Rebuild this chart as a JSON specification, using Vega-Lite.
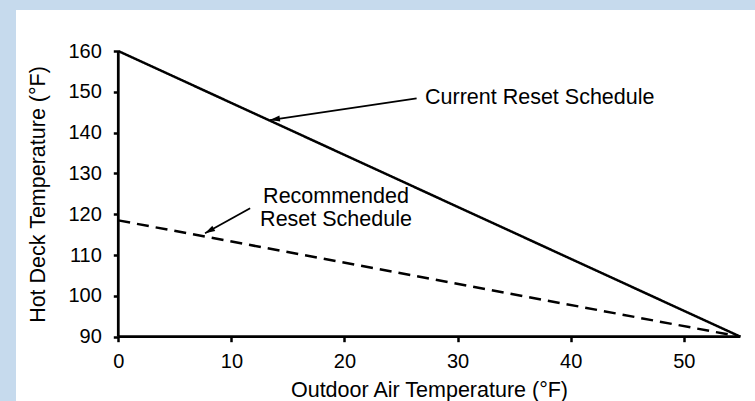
{
  "$schema": "https://vega.github.io/schema/vega-lite/v6.json",
  "width": 739,
  "height": 391,
  "autosize": {"type": "none"},
  "padding": {"left": 16, "top": 10, "right": 0, "bottom": 0},
  "background": "#c6daed",
  "config": {"view": {"fill": "white", "stroke": null}, "font": "Liberation Sans"},
  "datasets": {
    "lines": [
      {"series": "Current Reset Schedule", "x": 0, "y": 160},
      {"series": "Current Reset Schedule", "x": 55, "y": 90},
      {"series": "Recommended Reset Schedule", "x": 0, "y": 118.5},
      {"series": "Recommended Reset Schedule", "x": 55, "y": 90}
    ],
    "axislines": [
      {"x": 0, "y": 90, "x2": 55, "y2": 90},
      {"x": 0, "y": 90, "x2": 0, "y2": 160}
    ],
    "arrows": [
      {"arrow": "Current", "x": 26.38, "y": 148.41, "x2": 13.41, "y2": 143.09},
      {"arrow": "Recommended", "x": 11.66, "y": 121.46, "x2": 7.67, "y2": 115.33}
    ],
    "heads": [
      {"arrow": "Current", "x": 13.41, "y": 143.09},
      {"arrow": "Recommended", "x": 7.67, "y": 115.33}
    ],
    "currentLabel": [
      {"label": "Current Reset Schedule", "x": 27.12, "y": 148.4}
    ],
    "recLabel": [
      {"label": "Recommended", "x": 19.25, "y": 124.3},
      {"label": "Reset Schedule", "x": 19.25, "y": 118.6}
    ]
  },
  "encoding": {
    "x": {
      "field": "x",
      "type": "quantitative",
      "scale": {"domain": [-9.045, 56.3], "nice": false, "zero": false},
      "axis": {
        "title": "Outdoor Air Temperature (°F)",
        "values": [0, 10, 20, 30, 40, 50],
        "domain": false,
        "grid": false,
        "offset": -64.3,
        "tickSize": 5,
        "tickWidth": 2.5,
        "tickColor": "black",
        "labelFontSize": 20,
        "labelColor": "black",
        "labelPadding": 10,
        "titleFontSize": 21.5,
        "titleFontWeight": "normal",
        "titleColor": "black",
        "titleX": 413,
        "titleY": 54,
        "titleBaseline": "middle"
      }
    },
    "y": {
      "field": "y",
      "type": "quantitative",
      "scale": {"domain": [74.24, 170.05], "nice": false, "zero": false},
      "axis": {
        "title": "Hot Deck Temperature (°F)",
        "values": [90, 100, 110, 120, 130, 140, 150, 160],
        "domain": false,
        "grid": false,
        "offset": -102.3,
        "tickSize": 5,
        "tickWidth": 2.5,
        "tickColor": "black",
        "labelFontSize": 20,
        "labelColor": "black",
        "labelPadding": 12,
        "titleFontSize": 21.5,
        "titleFontWeight": "normal",
        "titleColor": "black",
        "titleX": -80,
        "titleY": 184,
        "titleBaseline": "middle"
      }
    }
  },
  "layer": [
    {
      "data": {"name": "lines"},
      "mark": {"type": "line", "color": "black", "strokeWidth": 2.5},
      "encoding": {
        "detail": {"field": "series"},
        "strokeDash": {
          "field": "series",
          "type": "nominal",
          "scale": {"domain": ["Current Reset Schedule", "Recommended Reset Schedule"], "range": [[1, 0], [12, 7]]},
          "legend": null
        }
      }
    },
    {
      "data": {"name": "axislines"},
      "mark": {"type": "rule", "color": "black", "strokeWidth": 2.75},
      "encoding": {
        "x2": {"field": "x2"},
        "y2": {"field": "y2"}
      }
    },
    {
      "data": {"name": "arrows"},
      "mark": {"type": "rule", "color": "black", "strokeWidth": 1.8},
      "encoding": {
        "x2": {"field": "x2"},
        "y2": {"field": "y2"}
      }
    },
    {
      "data": {"name": "heads"},
      "transform": [{"filter": "datum.arrow === 'Current'"}],
      "mark": {"type": "point", "shape": "M0,0 L-0.6,2 L0.6,2 Z", "size": 100, "filled": true, "color": "black", "opacity": 1, "angle": 261.6}
    },
    {
      "data": {"name": "heads"},
      "transform": [{"filter": "datum.arrow === 'Recommended'"}],
      "mark": {"type": "point", "shape": "M0,0 L-0.6,2 L0.6,2 Z", "size": 100, "filled": true, "color": "black", "opacity": 1, "angle": 240.9}
    },
    {
      "data": {"name": "currentLabel"},
      "mark": {"type": "text", "align": "left", "baseline": "middle", "fontSize": 21.5, "color": "black"},
      "encoding": {"text": {"field": "label"}}
    },
    {
      "data": {"name": "recLabel"},
      "mark": {"type": "text", "align": "center", "baseline": "middle", "fontSize": 21.5, "color": "black"},
      "encoding": {"text": {"field": "label"}}
    }
  ]
}
